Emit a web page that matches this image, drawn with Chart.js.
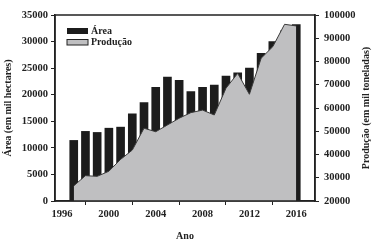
<!DOCTYPE html>
<html>
<head>
<meta charset="utf-8">
<script src="https://cdn.jsdelivr.net/npm/chart.js@4/dist/chart.umd.min.js"></script>
<style>
  html, body { margin: 0; padding: 0; background: #fff; }
  #wrap { width: 383px; height: 242px; }
</style>
</head>
<body>
<div id="wrap"><canvas id="chart" width="383" height="242"></canvas></div>
<script>
// Data
const years = [1997, 1998, 1999, 2000, 2001, 2002, 2003, 2004, 2005, 2006,
               2007, 2008, 2009, 2010, 2011, 2012, 2013, 2014, 2015, 2016];
const area = [11400, 13100, 12900, 13700, 13900, 16400, 18500, 21400, 23300, 22700,
              20600, 21400, 21800, 23500, 24100, 25000, 27800, 30000, 32000, 33200];
const producao = [26500, 30900, 30600, 32800, 37900, 41900, 51300, 49800, 52700, 55600,
                  58000, 59100, 57000, 68500, 74900, 65900, 81400, 86400, 96000, 95300];
const xTicks = [1996, 2000, 2004, 2008, 2012, 2016];

const serif = '"Liberation Serif", "DejaVu Serif", serif';
const ink = '#222';

// frame around the plot, legend and the right-hand title
const extras = {
    id: 'extras',
    afterDatasetsDraw(chart) {
        const ctx = chart.ctx;
        const a = chart.chartArea;
        ctx.save();
        ctx.strokeStyle = ink;
        ctx.lineWidth = 1.5;
        ctx.strokeRect(a.left, a.top, a.right - a.left, a.bottom - a.top);

        // legend
        const ds = chart.data.datasets;
        ctx.font = 'bold 10px ' + serif;
        ctx.textBaseline = 'middle';
        ctx.fillStyle = ds[0].backgroundColor;
        ctx.fillRect(67, 28, 21, 6);
        ctx.fillStyle = ds[1].backgroundColor;
        ctx.fillRect(67, 39.5, 21, 5.5);
        ctx.lineWidth = 1;
        ctx.strokeStyle = ink;
        ctx.strokeRect(67, 39.5, 21, 5.5);
        ctx.fillStyle = ink;
        ctx.fillText(ds[0].label, 91, 31);
        ctx.fillText(ds[1].label, 91, 42.5);

        // right axis title, reading upwards
        ctx.translate(366, 108);
        ctx.rotate(-Math.PI / 2);
        ctx.textAlign = 'center';
        ctx.fillText('Produção (em mil toneladas)', 0, 0);
        ctx.restore();
    }
};

const plain = v => String(v);

const ctxChart = document.getElementById('chart').getContext('2d');
const chart = new Chart(ctxChart, {
    type: 'bar',
    data: {
        datasets: [{
            type: 'bar',
            label: 'Área',
            data: years.map((y, i) => ({ x: y, y: area[i] })),
            backgroundColor: '#1c1c1c',
            barThickness: 8,
            yAxisID: 'y',
            order: 1
        }, {
            type: 'line',
            label: 'Produção',
            data: years.map((y, i) => ({ x: y, y: producao[i] })),
            backgroundColor: '#bfbfc1',
            borderColor: '#3a3a3a',
            borderWidth: 1,
            pointRadius: 0,
            tension: 0,
            fill: 'start',
            yAxisID: 'y1',
            order: 0
        }]
    },
    options: {
        responsive: false,
        animation: false,
        layout: { padding: { top: 15 } },
        plugins: {
            legend: { display: false },
            tooltip: { enabled: false }
        },
        scales: {
            x: {
                type: 'linear',
                offset: false,
                min: 1995.4,
                max: 2017.6,
                afterBuildTicks: s => { s.ticks = xTicks.map(v => ({ value: v })); },
                afterFit: s => { s.height = 41; },
                grid: { drawOnChartArea: false, tickLength: 4, color: ink },
                border: { color: ink, width: 1.5 },
                ticks: {
                    padding: 3, color: ink, maxRotation: 0,
                    font: { family: serif, size: 10.5, weight: 'bold' },
                    callback: plain
                },
                title: {
                    display: true, text: 'Ano', color: ink,
                    padding: { top: 4, bottom: 0 },
                    font: { family: serif, size: 10, weight: 'bold' }
                }
            },
            y: {
                position: 'left',
                min: 0,
                max: 35000,
                afterFit: s => { s.width = 55; },
                grid: { drawOnChartArea: false, tickLength: 4, color: ink },
                border: { color: ink, width: 1.5 },
                ticks: {
                    stepSize: 5000, padding: 3, color: ink,
                    font: { family: serif, size: 10.5, weight: 'bold' },
                    callback: plain
                },
                title: {
                    display: true, text: 'Área (em mil hectares)', color: ink,
                    padding: { top: 2, bottom: 0 },
                    font: { family: serif, size: 10, weight: 'bold' }
                }
            },
            y1: {
                position: 'right',
                min: 20000,
                max: 100000,
                afterFit: s => { s.width = 68; },
                grid: { drawOnChartArea: false, tickLength: 4, color: ink },
                border: { color: ink, width: 1.5 },
                ticks: {
                    stepSize: 10000, padding: 5, color: ink,
                    font: { family: serif, size: 10.5, weight: 'bold' },
                    callback: plain
                }
            }
        }
    },
    plugins: [extras]
});
</script>
</body>
</html>
